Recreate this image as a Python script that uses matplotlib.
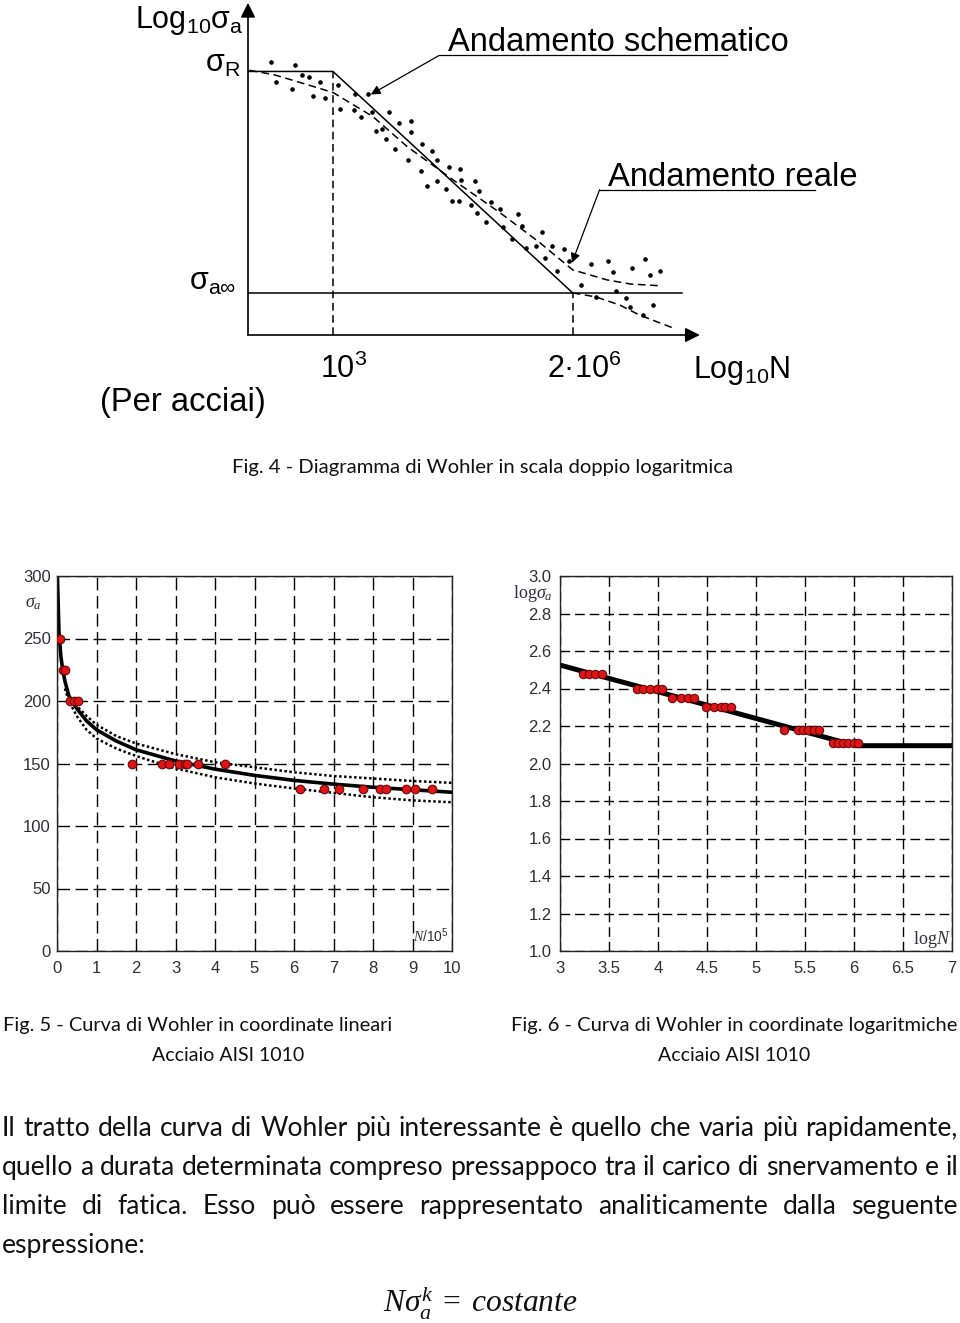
import matplotlib
matplotlib.use('Agg')
import matplotlib.pyplot as plt

plt.rcParams['font.family'] = ['Liberation Sans', 'DejaVu Sans']
plt.rcParams['mathtext.fontset'] = 'custom'
plt.rcParams['mathtext.rm'] = 'Liberation Serif'
plt.rcParams['mathtext.it'] = 'Liberation Serif:italic'

W, H = 960, 1323

# --- Fig. 4: schematic Wohler diagram (x = log10 N, y = relative log sigma) ---
dots_logN = [2.15, 2.48, 2.57, 2.67, 2.82, 2.21, 2.44, 2.73, 2.89, 3.07, 3.30, 3.48,
             3.10, 3.29, 3.39, 3.54, 3.77, 3.91, 4.07, 4.07, 3.59, 3.73, 3.68, 3.86,
             4.03, 4.23, 4.36, 4.43, 4.21, 4.30, 4.43, 4.56, 4.60, 4.75, 4.76, 4.96,
             5.01, 4.64, 4.73, 4.90, 4.98, 5.18, 5.30, 5.11, 5.34, 5.54, 5.60, 5.46,
             5.66, 5.88, 5.80, 6.01, 6.18, 6.08, 5.92, 6.25, 6.42, 6.55, 6.79, 6.85,
             7.11, 7.29, 7.36, 7.50, 6.62, 6.89, 7.03, 7.09, 7.27, 7.41]
dots_logS = [1.042, 1.029, 0.982, 0.973, 0.953, 0.953, 0.919, 0.891, 0.878, 0.940, 0.899, 0.899,
             0.831, 0.828, 0.793, 0.817, 0.817, 0.768, 0.778, 0.725, 0.730, 0.697, 0.742, 0.650,
             0.602, 0.673, 0.643, 0.599, 0.549, 0.481, 0.504, 0.471, 0.567, 0.560, 0.508, 0.504,
             0.462, 0.413, 0.413, 0.398, 0.360, 0.409, 0.379, 0.320, 0.296, 0.357, 0.300, 0.243,
             0.202, 0.277, 0.210, 0.213, 0.198, 0.101, 0.157, 0.146, 0.036, 0.130, 0.145, 0.096,
             0.114, 0.152, 0.081, 0.101, -0.017, 0.009, -0.024, -0.062, -0.100, -0.054]
real_logN = [1.85, 2.18, 2.64, 3.00, 3.55, 4.02, 4.65, 5.30, 5.85, 6.30, 6.77, 7.10, 7.52]
real_logS = [1.005, 0.986, 0.941, 0.905, 0.796, 0.661, 0.511, 0.362, 0.226, 0.104, 0.059, 0.040, 0.032]
low_logN = [6.30, 6.62, 6.95, 7.22, 7.68]
low_logS = [0.0, -0.018, -0.055, -0.100, -0.158]
schem_logN = [1.83, 3.0, 6.30]
schem_logS = [1.0, 1.0, 0.0]
limit_logN = [1.83, 7.81]
limit_logS = [0.0, 0.0]

# --- Fig. 5: linear coordinates, AISI 1010 ---
n5 = [0.07, 0.15, 0.19, 0.32, 0.42, 0.53, 1.90, 2.65, 2.83, 3.09, 3.25, 3.30, 3.58, 4.25,
      6.14, 6.75, 7.14, 7.74, 8.18, 8.33, 8.83, 9.07, 9.49]
s5 = [250, 225, 225, 200, 200, 200, 150, 150, 150, 150, 150, 150, 150, 150,
      130, 130, 130, 130, 130, 130, 130, 130, 130]
curve_n = [0.01, 0.05, 0.1, 0.15, 0.2, 0.3, 0.5, 0.75, 1, 1.5, 2, 3, 4, 5, 6, 7, 8, 9, 10]
curve_s = [300, 255, 235, 224, 216, 204, 194, 184, 177, 168, 161, 152, 145.5, 140.5, 136.5, 133.5, 131, 129, 127]
upper_n = [0.3, 0.5, 0.75, 1, 1.5, 2, 3, 4, 5, 6, 7, 8, 9, 10]
upper_s = [204, 196, 188, 181, 172, 166, 157.5, 151, 147, 143, 140, 138, 136, 134.5]
lower_n = [0.2, 0.3, 0.5, 0.75, 1, 1.5, 2, 3, 4, 5, 6, 7, 8, 9, 10]
lower_s = [210, 200, 188, 177, 170, 162, 156, 146, 139, 134, 130, 126.5, 123, 120.5, 119]

# --- Fig. 6: log coordinates ---
logn6 = [3.23, 3.30, 3.36, 3.43,
         3.79, 3.85, 3.92, 3.99, 4.04,
         4.14, 4.23, 4.31, 4.37,
         4.49, 4.57, 4.64, 4.68, 4.74,
         5.29, 5.43, 5.48, 5.53, 5.59, 5.64,
         5.79, 5.84, 5.89, 5.94, 6.00, 6.04]
logs6 = [2.477] * 4 + [2.40] * 5 + [2.352] * 4 + [2.302] * 5 + [2.178] * 6 + [2.112] * 6
line6_n = [3.0, 6.02, 7.0]
line6_s = [2.525, 2.095, 2.095]

caption4 = 'Fig. 4 - Diagramma di Wohler in scala doppio logaritmica'
caption5 = 'Fig. 5 - Curva di Wohler in coordinate lineari'
caption6 = 'Fig. 6 - Curva di Wohler in coordinate logaritmiche'
material = 'Acciaio AISI 1010'
body = ['Il tratto della curva di Wohler più interessante è quello che varia più rapidamente,',
        'quello a durata determinata compreso pressappoco tra il carico di snervamento e il',
        'limite di fatica. Esso può essere rappresentato analiticamente dalla seguente',
        'espressione:']

fig = plt.figure(figsize=(W / 100, H / 100), dpi=100)
rend = fig.canvas.get_renderer()


def fx(px):
    return px / W


def fy(py):
    return 1 - py / H


def put(px, py, s, size, ha='left', va='baseline', **kw):
    return fig.text(fx(px), fy(py), s, fontsize=size, ha=ha, va=va, **kw)


def width_of(s, size, **kw):
    t = fig.text(0, 0, s, fontsize=size, **kw)
    w = t.get_window_extent(rend).width
    t.remove()
    return w


def fit(px0, px1, py, s, size, **kw):
    # shrink/grow the size so the string spans px0..px1
    w = width_of(s, size, **kw)
    size = size * (px1 - px0) / w
    return put(px0, py, s, size, **kw)


# ================= Fig. 4 =================
ax4 = fig.add_axes([fx(248), fy(335), (710 - 248) / W, 330 / H])
ax4.set_xlim(1.83, 8.19)
ax4.set_ylim(-0.19, 1.30)
ax4.axis('off')
dash = (0, (5, 3))
ax4.plot(schem_logN, schem_logS, color='k', lw=1.1)
ax4.plot(limit_logN, limit_logS, color='k', lw=1.1)
ax4.plot([3.0, 3.0], [-0.19, 1.0], color='k', lw=1.1, ls=dash)
ax4.plot([6.30, 6.30], [-0.19, 0.0], color='k', lw=1.1, ls=dash)
ax4.plot(real_logN, real_logS, color='k', lw=1.1, ls=dash)
ax4.plot(low_logN, low_logS, color='k', lw=1.1, ls=dash)
ax4.plot(dots_logN, dots_logS, 'o', color='k', ms=2.3)
arr = dict(arrowstyle='-|>', color='k', lw=1.2, mutation_scale=22, shrinkA=0, shrinkB=0)
ax4.annotate('', xy=(8.05, -0.19), xytext=(1.83, -0.19), arrowprops=arr, annotation_clip=False)
ax4.annotate('', xy=(1.83, 1.31), xytext=(1.83, -0.19), arrowprops=arr, annotation_clip=False)
lead = dict(arrowstyle='-|>', color='k', lw=0.9, mutation_scale=14, shrinkA=0, shrinkB=0)
ax4.plot([8.43, 4.46], [1.072, 1.072], color='k', lw=0.9, clip_on=False)
ax4.annotate('', xy=(3.52, 0.896), xytext=(4.46, 1.072), arrowprops=lead, annotation_clip=False)
ax4.plot([9.63, 6.67], [0.466, 0.466], color='k', lw=0.9, clip_on=False)
ax4.annotate('', xy=(6.29, 0.136), xytext=(6.67, 0.466), arrowprops=lead, annotation_clip=False)

put(135, 28, r'$\mathregular{Log_{10}σ_a}$', 22)
put(205, 72, r'$\mathregular{σ_R}$', 22)
put(189, 290, r'$\mathregular{σ_{a∞}}$', 22)
put(320, 378, r'$\mathregular{10^3}$', 22)
put(547, 378, r'$\mathregular{2·10^6}$', 22)
put(693, 378, r'$\mathregular{Log_{10}N}$', 22)
fit(100, 265, 411, '(Per acciai)', 22)
fit(448, 788, 51, 'Andamento schematico', 22)
fit(608, 857, 186, 'Andamento reale', 22)
fit(232, 731, 473, caption4, 13, family='Lato', color='#111111')


# ================= Fig. 5 & 6 helpers =================
def style(ax, dashes, pad_y):
    ax.grid(True, color='k', lw=1.0, ls=dashes)
    ax.set_axisbelow(True)
    ax.tick_params(length=0, labelsize=12, labelcolor='#2e2e38')
    ax.tick_params(axis='x', pad=7)
    ax.tick_params(axis='y', pad=pad_y)
    for sp in ax.spines.values():
        sp.set_color('#222222')
        sp.set_linewidth(1.0)


ax5 = fig.add_axes([fx(57), fy(951), 395 / W, 375 / H])
ax5.set_xlim(0, 10)
ax5.set_ylim(0, 300)
ax5.set_xticks(range(0, 11))
ax5.set_yticks(range(0, 301, 50))
style(ax5, (0, (9, 4)), 4.5)
ax5.plot(upper_n, upper_s, color='k', lw=1.8, ls=(0, (1, 1)))
ax5.plot(lower_n, lower_s, color='k', lw=1.8, ls=(0, (1, 1)))
ax5.plot(curve_n, curve_s, color='k', lw=2.6)
ax5.plot(n5, s5, 'o', mfc='#e01414', mec='#6a0a0a', mew=0.8, ms=6.2, zorder=5)
put(25, 607, r'$\sigma_a$', 13, color='#2e2e38')
put(413, 942, r'$N\mathregular{/10^5}$', 10, color='#2e2e38')

ax6 = fig.add_axes([fx(560), fy(951), 392 / W, 375 / H])
ax6.set_xlim(3, 7)
ax6.set_ylim(1.0, 3.0)
ax6.set_xticks([3, 3.5, 4, 4.5, 5, 5.5, 6, 6.5, 7])
ax6.set_xticklabels(['3', '3.5', '4', '4.5', '5', '5.5', '6', '6.5', '7'])
ax6.set_yticks([1.0, 1.2, 1.4, 1.6, 1.8, 2.0, 2.2, 2.4, 2.6, 2.8, 3.0])
ax6.set_yticklabels(['%.1f' % v for v in ax6.get_yticks()])
style(ax6, (0, (7, 3.5)), 6)
ax6.plot(line6_n, line6_s, color='k', lw=3.6, solid_capstyle='butt')
ax6.plot(logn6, logs6, 'o', mfc='#e01414', mec='#6a0a0a', mew=0.8, ms=6.0, zorder=5)
put(513, 598, r'$\mathrm{log}\sigma_a$', 13, color='#2e2e38')
put(913, 944, r'$\mathrm{log}N$', 13, color='#2e2e38')

fit(3, 392, 1031, caption5, 13, family='Lato', color='#111111')
fit(152, 303, 1061, material, 13, family='Lato', color='#111111')
fit(511, 958, 1031, caption6, 13, family='Lato', color='#111111')
fit(658, 809, 1061, material, 13, family='Lato', color='#111111')

# ================= body text, justified =================
bsize = 16 * 952 / width_of(body[0], 16, family='Lato')
baselines = [1136, 1175, 1214, 1253]
for k, (line, yb) in enumerate(zip(body, baselines)):
    words = line.split()
    if k == len(body) - 1:
        put(2, yb, line, bsize, family='Lato', color='#111111')
        continue
    ws = [width_of(w, bsize, family='Lato') for w in words]
    gap = (956 - sum(ws)) / (len(words) - 1)
    x = 2
    for w, wd in zip(words, ws):
        put(x, yb, w, bsize, family='Lato', color='#111111')
        x += wd + gap

fit(383, 578, 1313, r'$N\sigma_a^k\;=\;costante$', 18, color='#111111')

fig.savefig('out.png', dpi=100)
